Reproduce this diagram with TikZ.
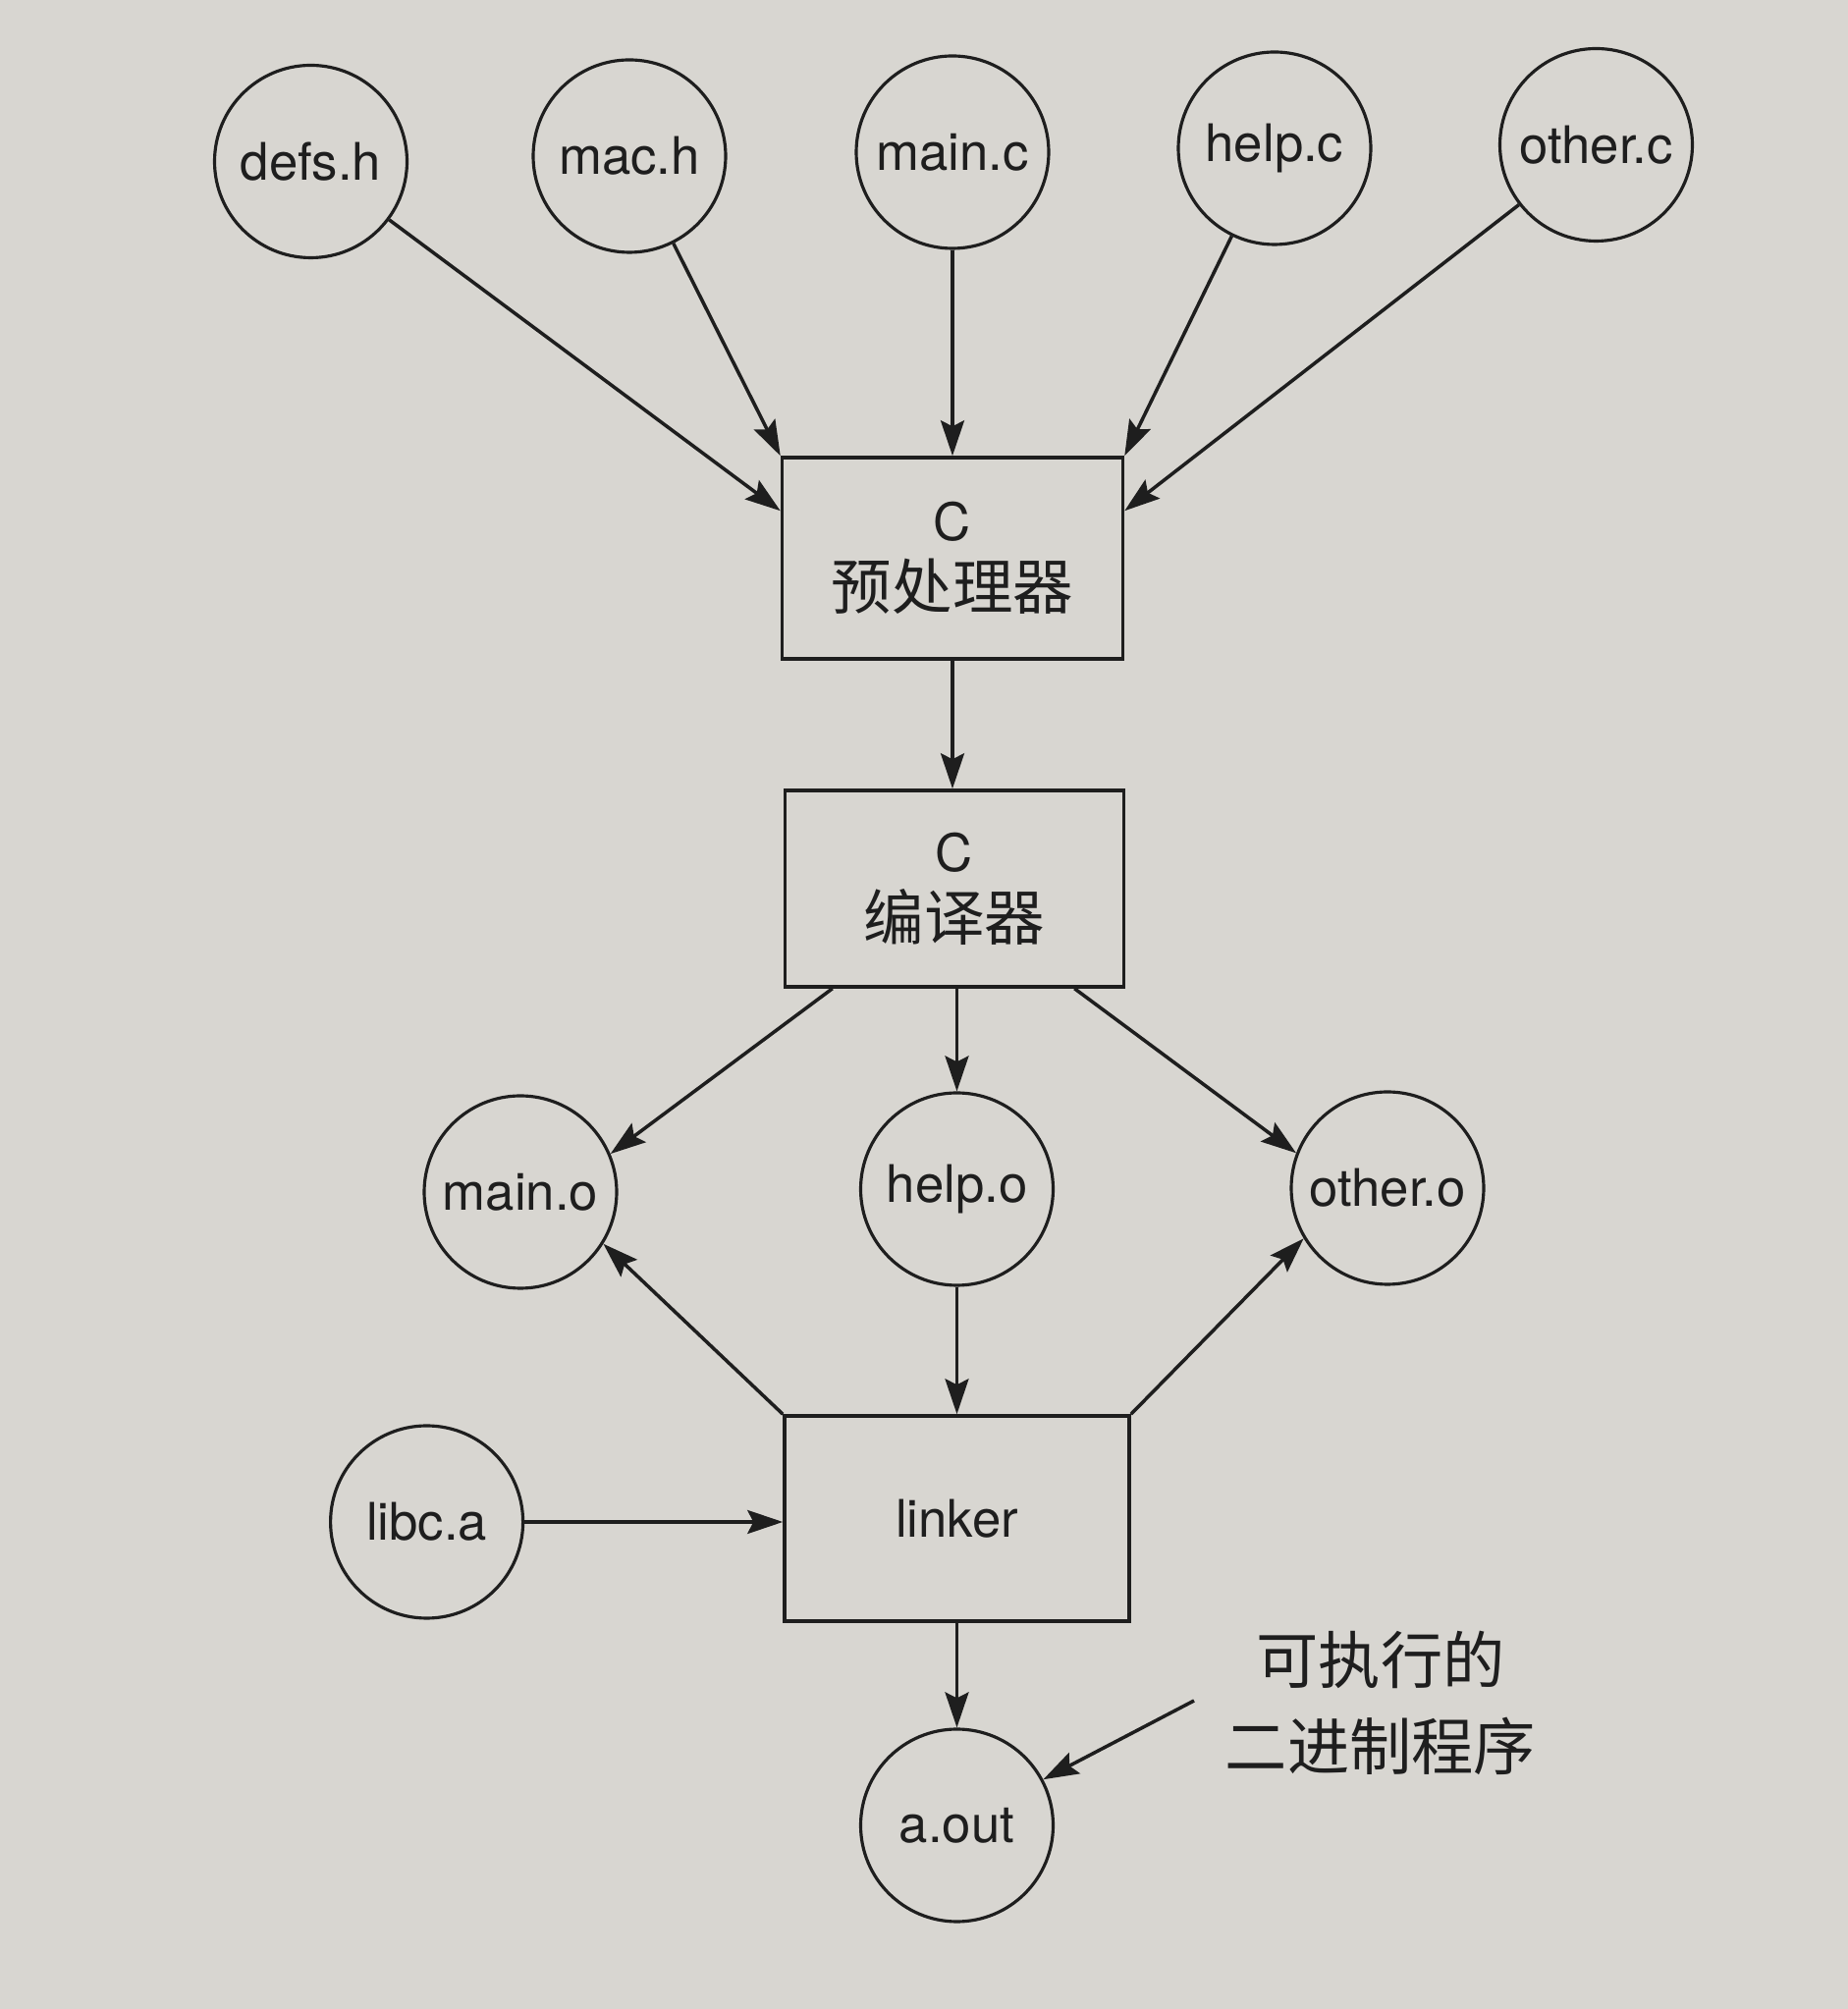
\documentclass[tikz,border=0pt]{standalone}
\usepackage{fontspec}
\setmainfont{TeX Gyre Heros}
\newfontfamily\cjk{Noto Sans CJK SC}
\usetikzlibrary{arrows.meta}
\definecolor{paper}{RGB}{216,214,209}
\definecolor{ink}{RGB}{30,30,30}
\begin{document}
\begin{tikzpicture}[
  file/.style={circle, draw=ink, line width=0.9pt, minimum size=1.96cm, inner sep=0pt,
               font=\fontsize{15}{18}\selectfont, text=ink},
  proc/.style={rectangle, draw=ink, line width=1pt, inner sep=0pt, align=center,
               font=\fontsize{17.5}{20}\selectfont, text=ink},
  arr/.style={draw=ink, line width=1pt, -{Stealth[length=0.36cm,width=0.24cm,inset=0.06cm]}},
  note/.style={font=\cjk\fontsize{18}{21}\selectfont, text=ink, inner sep=0pt}
]
\fill[paper] (0,0) rectangle (18.82,20.46);
\useasboundingbox (0,0) rectangle (18.82,20.46);

% source files
\node[file] (defs)   at (3.165,18.815) {defs.h};
\node[file] (mac)    at (6.41,18.87)   {mac.h};
\node[file] (mainc)  at (9.70,18.91)   {main.c};
\node[file] (helpc)  at (12.98,18.95)  {help.c};
\node[file] (otherc) at (16.255,18.985){other.c};

% processors
\node[proc, minimum width=3.47cm, minimum height=2.05cm] (pre) at (9.70,14.775)
  {{\fontsize{15}{20}\selectfont C}\\{\cjk 预处理器}};
\node[proc, minimum width=3.45cm, minimum height=2.00cm] (cc) at (9.72,11.41)
  {{\fontsize{15}{20}\selectfont C}\\{\cjk 编译器}};

% object files
\node[file] (maino)  at (5.30,8.32)  {main.o};
\node[file] (helpo)  at (9.745,8.35) {help.o};
\node[file] (othero) at (14.13,8.36) {other.o};

% linker
\node[proc, minimum width=3.51cm, minimum height=2.09cm, font=\fontsize{15}{18}\selectfont] (linker) at (9.745,4.995) {linker};
\node[file] (libc) at (4.346,4.96) {libc.a};
\node[file] (aout) at (9.745,1.87) {a.out};

% annotation
\node[note] (l1) at (14.06,3.56) {可执行的};
\node[note] (l2) at (14.06,2.68) {二进制程序};
\coordinate (lblpt) at (12.16,3.14);

% connectors
\draw[arr] (defs) -- ([yshift=-0.56cm]pre.north west);
\draw[arr] (mac) -- (pre.north west);
\draw[arr] (mainc) -- (pre.north);
\draw[arr] (helpc) -- (pre.north east);
\draw[arr] (otherc) -- ([yshift=-0.56cm]pre.north east);

\draw[arr] (pre.south) -- (cc.north -| pre.south);

\draw[arr] ([xshift=0.5cm]cc.south west) -- (maino.23);
\draw[arr] (cc.south -| helpo.north) -- (helpo.north);
\draw[arr] ([xshift=-0.52cm]cc.south east) -- (othero.159);

\draw[arr] (linker.north west) -- (maino.-32);
\draw[arr] (helpo.south) -- (helpo.south |- linker.north);
\draw[arr] (linker.north east) -- (othero.211);

\draw[arr] (libc.east) -- (libc.east -| linker.west);
\draw[arr] (linker.south -| aout.north) -- (aout.north);
\draw[arr] (lblpt) -- (aout.28);
\end{tikzpicture}
\end{document}
